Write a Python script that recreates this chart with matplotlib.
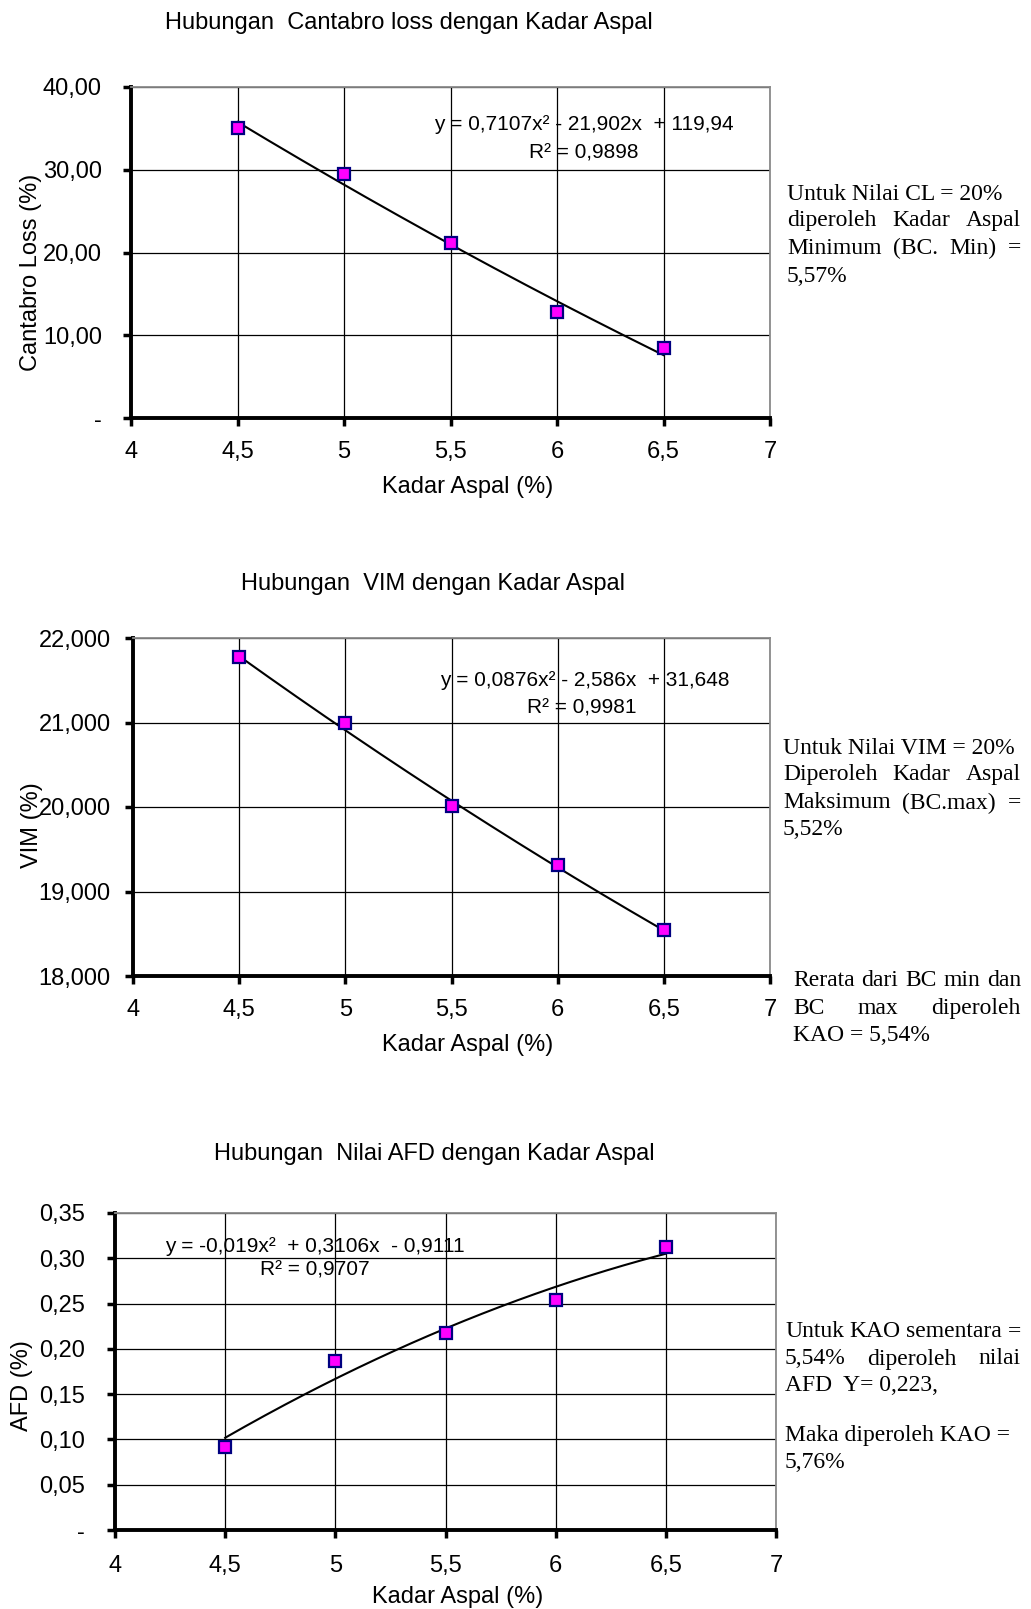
import numpy as np
import matplotlib
matplotlib.use("Agg")
import matplotlib.pyplot as plt

W, H = 1031, 1609
SANS = "Liberation Sans"
SERIF = "Liberation Serif"

# data
kadar_aspal = [4.5, 5.0, 5.5, 6.0, 6.5]
x_ticks = [4, 4.5, 5, 5.5, 6, 6.5, 7]
x_ticklabels = ["4", "4,5", "5", "5,5", "6", "6,5", "7"]

cantabro_loss = [35.1, 29.5, 21.2, 12.8, 8.5]
cl_coef = [0.7107, -21.902, 119.94]
cl_yticks = [0, 10, 20, 30, 40]
cl_yticklabels = ["-", "10,00", "20,00", "30,00", "40,00"]

vim = [21.77, 20.99, 20.01, 19.31, 18.55]
vim_coef = [0.0876, -2.586, 31.648]
vim_yticks = [18, 19, 20, 21, 22]
vim_yticklabels = ["18,000", "19,000", "20,000", "21,000", "22,000"]

afd = [0.092, 0.187, 0.217, 0.254, 0.312]
afd_coef = [-0.019, 0.3106, -0.9111]
afd_yticks = [0, 0.05, 0.10, 0.15, 0.20, 0.25, 0.30, 0.35]
afd_yticklabels = ["-", "0,05", "0,10", "0,15", "0,20", "0,25", "0,30", "0,35"]

notes_cl = ["Untuk Nilai CL = 20%", "diperoleh Kadar Aspal",
            "Minimum (BC. Min) =", "5,57%"]
notes_vim = ["Untuk Nilai VIM = 20%", "Diperoleh Kadar Aspal",
             "Maksimum (BC.max) =", "5,52%"]
notes_kao = ["Rerata dari BC min dan", "BC max diperoleh", "KAO = 5,54%"]
notes_afd = ["Untuk KAO sementara =", "5,54% diperoleh nilai",
             "AFD  Y= 0,223,", "Maka diperoleh KAO =", "5,76%"]


def fx(x):
    return x / W


def fy(y):
    return 1 - y / H


fig = plt.figure(figsize=(W / 100, H / 100), dpi=100)
fig.patch.set_facecolor("white")


def make_axes(left, top, right, bottom):
    return fig.add_axes([fx(left), fy(bottom), (right - left) / W, (bottom - top) / H])


def style_chart(ax, y, coef, ylim, yticks, yticklabels, ypad, xpad):
    xs = np.linspace(kadar_aspal[0], kadar_aspal[-1], 200)
    ax.plot(xs, np.polyval(coef, xs), color="black", lw=1.5, zorder=3)
    ax.plot(kadar_aspal, y, "s", ms=9, mfc="#ff00ff", mec="#000080", mew=1.6,
            zorder=4, clip_on=False)
    ax.set_xlim(4, 7)
    ax.set_ylim(*ylim)
    ax.set_xticks(x_ticks)
    ax.set_xticklabels(x_ticklabels, fontfamily=SANS, fontsize=17)
    ax.set_yticks(yticks)
    ax.set_yticklabels(yticklabels, fontfamily=SANS, fontsize=17)
    ax.grid(True, color="black", lw=0.9)
    ax.set_axisbelow(True)
    for s in ["left", "bottom"]:
        ax.spines[s].set_linewidth(2.8)
        ax.spines[s].set_color("black")
    for s in ["top", "right"]:
        ax.spines[s].set_linewidth(1.3)
        ax.spines[s].set_color("#8a8a8a")
    ax.tick_params(axis="y", direction="out", length=5.5, width=2.5, pad=ypad)
    ax.tick_params(axis="x", direction="out", length=5.5, width=2.5, pad=xpad)


def text_block(lines, justify, x0, x1, ys):
    renderer = fig.canvas.get_renderer()
    for line, just, y in zip(lines, justify, ys):
        words = line.split()
        if not just or len(words) < 2:
            fig.text(fx(x0), fy(y), line, fontfamily=SERIF, fontsize=17, va="center")
            continue
        texts = [fig.text(0, fy(y), w, fontfamily=SERIF, fontsize=17, va="center")
                 for w in words]
        widths = [t.get_window_extent(renderer).width for t in texts]
        gap = (x1 - x0 - sum(widths)) / (len(words) - 1)
        xpos = x0
        for t, w in zip(texts, widths):
            t.set_x(fx(xpos))
            xpos += w + gap


# chart 1 : Cantabro loss
ax1 = make_axes(131, 87, 770, 418)
style_chart(ax1, cantabro_loss, cl_coef, (0, 40), cl_yticks, cl_yticklabels, 15.4, 11)
fig.text(fx(409), fy(23), "Hubungan  Cantabro loss dengan Kadar Aspal",
         fontfamily=SANS, fontsize=17, ha="center", va="center")
fig.text(fx(468), fy(487), "Kadar Aspal (%)", fontfamily=SANS, fontsize=17,
         ha="center", va="center")
fig.text(fx(31), fy(272), "Cantabro Loss (%)", fontfamily=SANS, fontsize=17,
         ha="center", va="center", rotation=90)
fig.text(fx(584), fy(125), "y = 0,7107x² - 21,902x  + 119,94", fontfamily=SANS,
         fontsize=15, ha="center", va="center")
fig.text(fx(584), fy(153), "R² = 0,9898", fontfamily=SANS, fontsize=15,
         ha="center", va="center")

# chart 2 : VIM
ax2 = make_axes(133, 638, 770, 976)
style_chart(ax2, vim, vim_coef, (18, 22), vim_yticks, vim_yticklabels, 10.5, 11)
fig.text(fx(433), fy(584), "Hubungan  VIM dengan Kadar Aspal",
         fontfamily=SANS, fontsize=17, ha="center", va="center")
fig.text(fx(468), fy(1045), "Kadar Aspal (%)", fontfamily=SANS, fontsize=17,
         ha="center", va="center")
fig.text(fx(32), fy(825), "VIM (%)", fontfamily=SANS, fontsize=17,
         ha="center", va="center", rotation=90)
fig.text(fx(585), fy(681), "y = 0,0876x² - 2,586x  + 31,648", fontfamily=SANS,
         fontsize=15, ha="center", va="center")
fig.text(fx(582), fy(708), "R² = 0,9981", fontfamily=SANS, fontsize=15,
         ha="center", va="center")

# chart 3 : AFD
ax3 = make_axes(115, 1213, 776, 1530)
style_chart(ax3, afd, afd_coef, (0, 0.35), afd_yticks, afd_yticklabels, 16, 12.5)
fig.text(fx(434), fy(1154), "Hubungan  Nilai AFD dengan Kadar Aspal",
         fontfamily=SANS, fontsize=17, ha="center", va="center")
fig.text(fx(458), fy(1597), "Kadar Aspal (%)", fontfamily=SANS, fontsize=17,
         ha="center", va="center")
fig.text(fx(22), fy(1386), "AFD (%)", fontfamily=SANS, fontsize=17,
         ha="center", va="center", rotation=90)
fig.text(fx(315), fy(1246), "y = -0,019x²  + 0,3106x  - 0,9111", fontfamily=SANS,
         fontsize=15, ha="center", va="center")
fig.text(fx(315), fy(1270), "R² = 0,9707", fontfamily=SANS, fontsize=15,
         ha="center", va="center")

# notes on the right
text_block(notes_cl, [False, True, True, False], 787, 1021, [194, 220.5, 248, 276])
text_block(notes_vim, [False, True, True, False], 783, 1021, [748, 774.5, 803, 830])
text_block(notes_kao, [True, True, False], 793, 1021, [980.5, 1008, 1035.5])
text_block(notes_afd, [True, True, False, False, False], 785, 1021,
           [1331.5, 1359, 1385.5, 1436, 1462.5])

fig.savefig("out.png", dpi=100)
